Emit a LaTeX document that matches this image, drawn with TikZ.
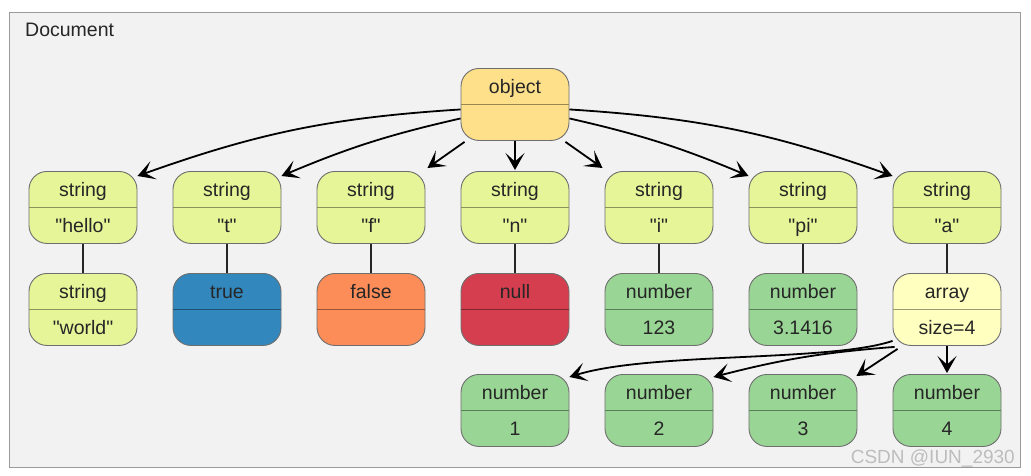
\documentclass[tikz,border=0pt]{standalone}
\usepackage{fontspec}
\setmainfont{Liberation Sans}[Ligatures=TeXOff]
\usetikzlibrary{arrows.meta,calc}
\definecolor{cstr}{HTML}{E6F598}
\definecolor{ctrue}{HTML}{3288BD}
\definecolor{cfalse}{HTML}{FC8D59}
\definecolor{cnull}{HTML}{D53E4F}
\definecolor{cnum}{HTML}{99D594}
\definecolor{carr}{HTML}{FFFFBF}
\definecolor{cobj}{HTML}{FEE08B}
\definecolor{frame}{HTML}{9A9A9A}
\definecolor{bg}{HTML}{F2F2F2}
\definecolor{bord}{HTML}{6E6E6E}
\definecolor{wm}{HTML}{BDBDBD}
\tikzset{
  jbox/.style={draw=bord, line width=0.9pt, rounded corners=18pt,
    minimum width=108pt, minimum height=72pt, inner sep=0pt},
  jtext/.style={font=\fontsize{19.5}{23}\selectfont, text=black!85, anchor=base, inner sep=0pt},
  link/.style={line width=1.3pt, draw=black!85},
  arr/.style={line width=1.8pt, draw=black, -{Stealth[length=17pt,width=19pt,inset=8.5pt]}},
}
% name, x, top y, fill, top text, bottom text
\newcommand{\jbox}[6]{%
  \node[jbox, fill=#4, anchor=north] (#1) at (#2,#3) {};
  \draw[line width=1.2pt, draw=#4!60!black] (#1.west) -- (#1.east);
  \node[jtext] (#1-t) at (#2,#3+25) {#5};
  \node[jtext] (#1-b) at (#2,#3+61) {#6};
}
\begin{document}
\begin{tikzpicture}[x=1pt,y=-1pt]
\useasboundingbox (0,0) rectangle (1031,475);
\fill[white] (0,0) rectangle (1031,475);
\node[draw=frame, line width=1.3pt, fill=bg, minimum width=1011pt, minimum height=455pt, inner sep=0pt, anchor=north west] (doc) at (9,12) {};
\node[jtext, anchor=base west] (doclabel) at (25,36) {Document};

\jbox{obj}{515}{68}{cobj}{object}{}

\jbox{s1}{83}{171}{cstr}{string}{"hello"}
\jbox{s2}{227}{171}{cstr}{string}{"t"}
\jbox{s3}{371}{171}{cstr}{string}{"f"}
\jbox{s4}{515}{171}{cstr}{string}{"n"}
\jbox{s5}{659}{171}{cstr}{string}{"i"}
\jbox{s6}{803}{171}{cstr}{string}{"pi"}
\jbox{s7}{947}{171}{cstr}{string}{"a"}

\jbox{v1}{83}{273}{cstr}{string}{"world"}
\jbox{v2}{227}{273}{ctrue}{true}{}
\jbox{v3}{371}{273}{cfalse}{false}{}
\jbox{v4}{515}{273}{cnull}{null}{}
\jbox{v5}{659}{273}{cnum}{number}{123}
\jbox{v6}{803}{273}{cnum}{number}{3.1416}
\jbox{v7}{947}{273}{carr}{array}{size=4}

\jbox{n1}{515}{374}{cnum}{number}{1}
\jbox{n2}{659}{374}{cnum}{number}{2}
\jbox{n3}{803}{374}{cnum}{number}{3}
\jbox{n4}{947}{374}{cnum}{number}{4}

\foreach \i in {1,...,7}{\draw[link] (s\i.south) -- (v\i.north);}

\draw[arr] ([yshift=-5pt]obj.west) to[bend right=8] ([yshift=-5pt]s1.north east);
\draw[arr] ([yshift=-14pt]obj.west) to[bend right=5] ([yshift=-5pt]s2.north east);
\draw[arr] ([xshift=4pt,yshift=-1pt]obj.south west) -- ([xshift=2pt,yshift=3pt]s3.north east);
\draw[arr] (obj.south) -- ([yshift=1pt]s4.north);
\draw[arr] ([xshift=-4pt,yshift=-1pt]obj.south east) -- ([xshift=-2pt,yshift=3pt]s5.north west);
\draw[arr] ([yshift=-14pt]obj.east) to[bend left=5] ([yshift=-5pt]s6.north west);
\draw[arr] ([yshift=-5pt]obj.east) to[bend left=8] ([yshift=-5pt]s7.north west);

\draw[arr] ([yshift=5pt]v7.south west) .. controls (830,362) and (650,352) .. ([yshift=-3pt]n1.north east);
\draw[arr] ([xshift=2pt,yshift=-1pt]v7.south west) to[bend right=5] ([yshift=-3pt]n2.north east);
\draw[arr] ([xshift=5pt,yshift=-3pt]v7.south west) -- ([xshift=-1pt,yshift=-2pt]n3.north east);
\draw[arr] (v7.south) -- ([yshift=1pt]n4.north);

\node[font=\fontsize{19}{22}\selectfont, text=wm, anchor=base east, inner sep=0pt] (wmark) at (1015,463) {CSDN @IUN\_2930};
\end{tikzpicture}
\end{document}
